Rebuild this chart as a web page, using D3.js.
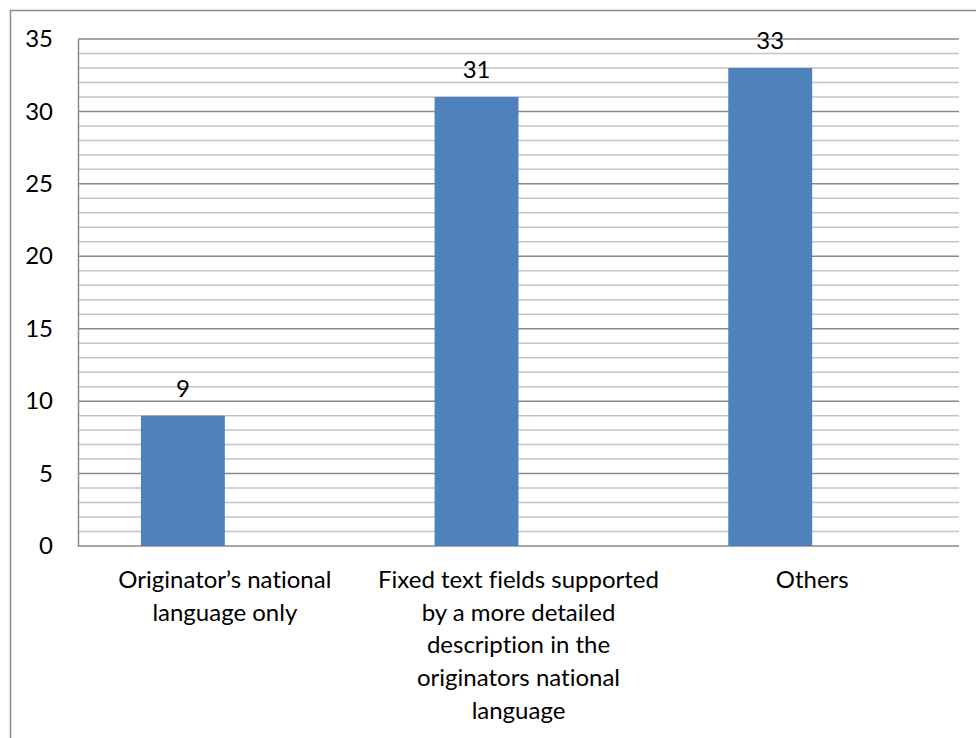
<!DOCTYPE html>
<html>
<head>
<meta charset="utf-8">
<script src="https://cdn.jsdelivr.net/npm/d3@7"></script>
<style>
  html, body { margin: 0; padding: 0; background: #fff; }
  svg { display: block; }
  text { font-family: Lato, "Open Sans", sans-serif; fill: #000; font-variant-ligatures: none; font-feature-settings: "liga" 0, "clig" 0; }
</style>
</head>
<body>
<svg id="chart" width="976" height="738"></svg>
<script>
// Responses by category
const categories = [
  "Originator\u2019s national language only",
  "Fixed text fields supported by a more detailed description in the originators national language",
  "Others"
];
const values = [9, 31, 33];
const yTicks = [0, 5, 10, 15, 20, 25, 30, 35];

const svg = d3.select("#chart");
const W = 976, H = 738;
const margin = { left: 78, right: 17, top: 39, bottom: 192 };
const plotW = W - margin.left - margin.right;
const plotH = H - margin.top - margin.bottom;
const fontSize = 24;

// frame around the chart area
svg.append("rect")
  .attr("x", 10.5).attr("y", 10.5)
  .attr("width", 1000).attr("height", 1000)
  .attr("fill", "none").attr("stroke", "#8c8c8c").attr("stroke-width", 1.5);

const g = svg.append("g").attr("transform", `translate(${margin.left},${margin.top})`);

const y = d3.scaleLinear().domain([0, 35]).range([plotH, 0]);
const x0 = d3.scaleBand().domain(categories).range([0, plotW]).padding(0);
// two slots per category; only the first one carries a bar
const x1 = d3.scaleBand().domain(["value", "empty"]).range([0, x0.bandwidth()])
  .paddingInner(0).paddingOuter(0.75);

// minor gridlines every unit
g.append("g").selectAll("line")
  .data(d3.range(0, 36).filter(v => v % 5 !== 0))
  .join("line")
  .attr("x1", 0).attr("x2", plotW)
  .attr("y1", d => y(d)).attr("y2", d => y(d))
  .attr("stroke", "#c4c4c4").attr("stroke-width", 1.5);

// major gridlines
g.append("g").selectAll("line")
  .data(yTicks)
  .join("line")
  .attr("x1", 0).attr("x2", plotW)
  .attr("y1", d => y(d)).attr("y2", d => y(d))
  .attr("stroke", "#8a8a8a").attr("stroke-width", 1.5);

// y axis
const yAxis = d3.axisLeft(y).tickValues(yTicks).tickSize(0).tickPadding(25).tickFormat(d3.format("d"));
const ya = g.append("g").call(yAxis);
ya.select(".domain").attr("stroke", "#8a8a8a").attr("stroke-width", 1.5);
ya.selectAll("text").attr("font-size", fontSize).attr("font-family", "Lato, sans-serif").attr("fill", "#000");

// bars
g.append("g").selectAll("rect")
  .data(categories.map((c, i) => ({ c, v: values[i] })))
  .join("rect")
  .attr("x", d => x0(d.c) + x1("value"))
  .attr("width", x1.bandwidth())
  .attr("y", d => y(d.v))
  .attr("height", d => y(0) - y(d.v))
  .attr("fill", "#4f81bd");

// value labels
g.append("g").selectAll("text")
  .data(categories.map((c, i) => ({ c, v: values[i] })))
  .join("text")
  .attr("x", d => x0(d.c) + x1("value") + x1.bandwidth() / 2)
  .attr("y", d => y(d.v) - 19)
  .attr("text-anchor", "middle")
  .attr("font-size", fontSize)
  .text(d => d.v);

// x axis category labels, wrapped to the band width
const xAxis = d3.axisBottom(x0).tickSize(0).tickPadding(0);
const xa = g.append("g").attr("transform", `translate(0,${plotH})`).call(xAxis);
xa.select(".domain").remove();
xa.selectAll("text").remove();

const lineH = 32.7;
xa.selectAll(".tick").each(function (d) {
  const t = d3.select(this).append("text")
    .attr("text-anchor", "middle")
    .attr("font-size", fontSize)
    .attr("y", 42);
  const words = d.split(" ");
  let line = [];
  let lines = [];
  const probe = t.append("tspan");
  words.forEach(w => {
    const trial = line.concat(w).join(" ");
    probe.text(trial);
    if (probe.node().getComputedTextLength() > x0.bandwidth() - 4 && line.length) {
      lines.push(line.join(" "));
      line = [w];
    } else {
      line.push(w);
    }
  });
  lines.push(line.join(" "));
  probe.remove();
  lines.forEach((l, i) => {
    t.append("tspan").attr("x", 0).attr("dy", i === 0 ? 0 : lineH).text(l);
  });
});
</script>
</body>
</html>
